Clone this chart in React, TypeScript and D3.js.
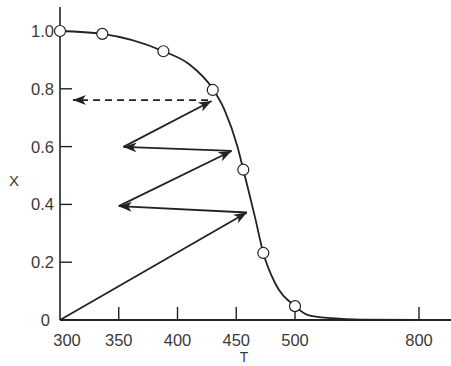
import React from "react";
import * as d3 from "d3";

const W = 451;
const H = 366;

// Curve values (T, X)
const curveT = [300, 336, 388, 410, 430, 440, 451, 456, 460, 466, 473, 483, 500, 530, 590, 660, 800, 880];
const curveX = [1.0, 0.99, 0.93, 0.885, 0.8, 0.727, 0.6, 0.52, 0.455, 0.355, 0.232, 0.128, 0.048, 0.018, 0.006, 0.001, 0.0, 0.0];

// Measured points (circles)
const pointT = [300, 336, 388, 430, 456, 473, 500];
const pointX = [1.0, 0.99, 0.93, 0.796, 0.52, 0.232, 0.048];

// Arrow segments: start (T, X) -> end (T, X)
const arrowFromT = [300, 459, 350, 446, 354, 426];
const arrowFromX = [0, 0.372, 0.394, 0.585, 0.599, 0.761];
const arrowToT = [459, 350, 446, 354, 429, 311];
const arrowToX = [0.372, 0.394, 0.585, 0.599, 0.758, 0.761];
const arrowDashed = [false, false, false, false, false, true];

const xTicks = [350, 400, 450, 500, 800];
const xTickLabels = ["300", "350", "400", "450", "500", "800"];
const xLabelT = [300, 350, 400, 450, 500, 800];
const yTicks = [0.2, 0.4, 0.6, 0.8];
const yTickValues = [0, 0.2, 0.4, 0.6, 0.8, 1.0];
const yTickLabels = ["0", "0.2", "0.4", "0.6", "0.8", "1.0"];

export default function App() {
  const x = d3.scaleLinear().domain([300, 500, 800, 880]).range([60, 295, 419, 452]);
  const y = d3.scaleLinear().domain([0, 1]).range([320, 31]);

  const line = d3
    .line<number>()
    .x((_, i) => x(curveT[i]))
    .y((_, i) => y(curveX[i]))
    .curve(d3.curveMonotoneX);

  const ink = "#222";
  const textCol = "#3a3a3a";
  const font = "'Liberation Sans', Arial, Helvetica, sans-serif";

  return (
    <svg
      width={W}
      height={H}
      style={{ position: "absolute", left: 0, top: 0, background: "#fff" }}
      fontFamily={font}
    >
      <defs>
        <marker
          id="ah"
          markerUnits="userSpaceOnUse"
          markerWidth={16}
          markerHeight={12}
          viewBox="-14 -6 16 12"
          refX={0}
          refY={0}
          orient="auto"
        >
          <path d="M0,0 L-13,-5 L-9.5,0 L-13,5 Z" fill={ink} />
        </marker>
      </defs>

      {/* axes */}
      <line x1={60} x2={60} y1={7} y2={320} stroke={ink} strokeWidth={1.6} />
      <line x1={60} x2={W} y1={320} y2={320} stroke={ink} strokeWidth={1.8} />

      {/* y ticks */}
      {yTicks.map((v) => (
        <line key={v} x1={60} x2={72} y1={y(v)} y2={y(v)} stroke={ink} strokeWidth={1.4} />
      ))}
      {yTickValues.map((v, i) => (
        <text
          key={v}
          x={v === 0 ? 50 : 54}
          y={y(v) + 6}
          textAnchor="end"
          fontSize={16.5}
          fill={textCol}
        >
          {yTickLabels[i]}
        </text>
      ))}

      {/* x ticks */}
      {xTicks.map((v) => (
        <line key={v} x1={x(v)} x2={x(v)} y1={320} y2={307} stroke={ink} strokeWidth={1.4} />
      ))}
      {xLabelT.map((v, i) => (
        <text
          key={v}
          x={v === 300 ? x(v) + 7 : x(v)}
          y={346}
          textAnchor="middle"
          fontSize={16.5}
          fill={textCol}
        >
          {xTickLabels[i]}
        </text>
      ))}

      {/* axis titles */}
      <text x={244} y={362} textAnchor="middle" fontSize={14} fill={textCol}>
        T
      </text>
      <text x={14} y={186} textAnchor="middle" fontSize={15} fill={textCol}>
        X
      </text>

      {/* curve */}
      <path d={line(curveT) || ""} fill="none" stroke={ink} strokeWidth={1.8} />

      {/* arrows */}
      {arrowFromT.map((t, i) => (
        <line
          key={i}
          x1={x(t)}
          y1={y(arrowFromX[i])}
          x2={x(arrowToT[i])}
          y2={y(arrowToX[i])}
          stroke={ink}
          strokeWidth={1.8}
          strokeDasharray={arrowDashed[i] ? "7 5" : undefined}
          markerEnd="url(#ah)"
        />
      ))}

      {/* circles */}
      {pointT.map((t, i) => (
        <circle
          key={i}
          cx={x(t)}
          cy={y(pointX[i])}
          r={5.5}
          fill="#fff"
          stroke={ink}
          strokeWidth={1.2}
        />
      ))}
    </svg>
  );
}
